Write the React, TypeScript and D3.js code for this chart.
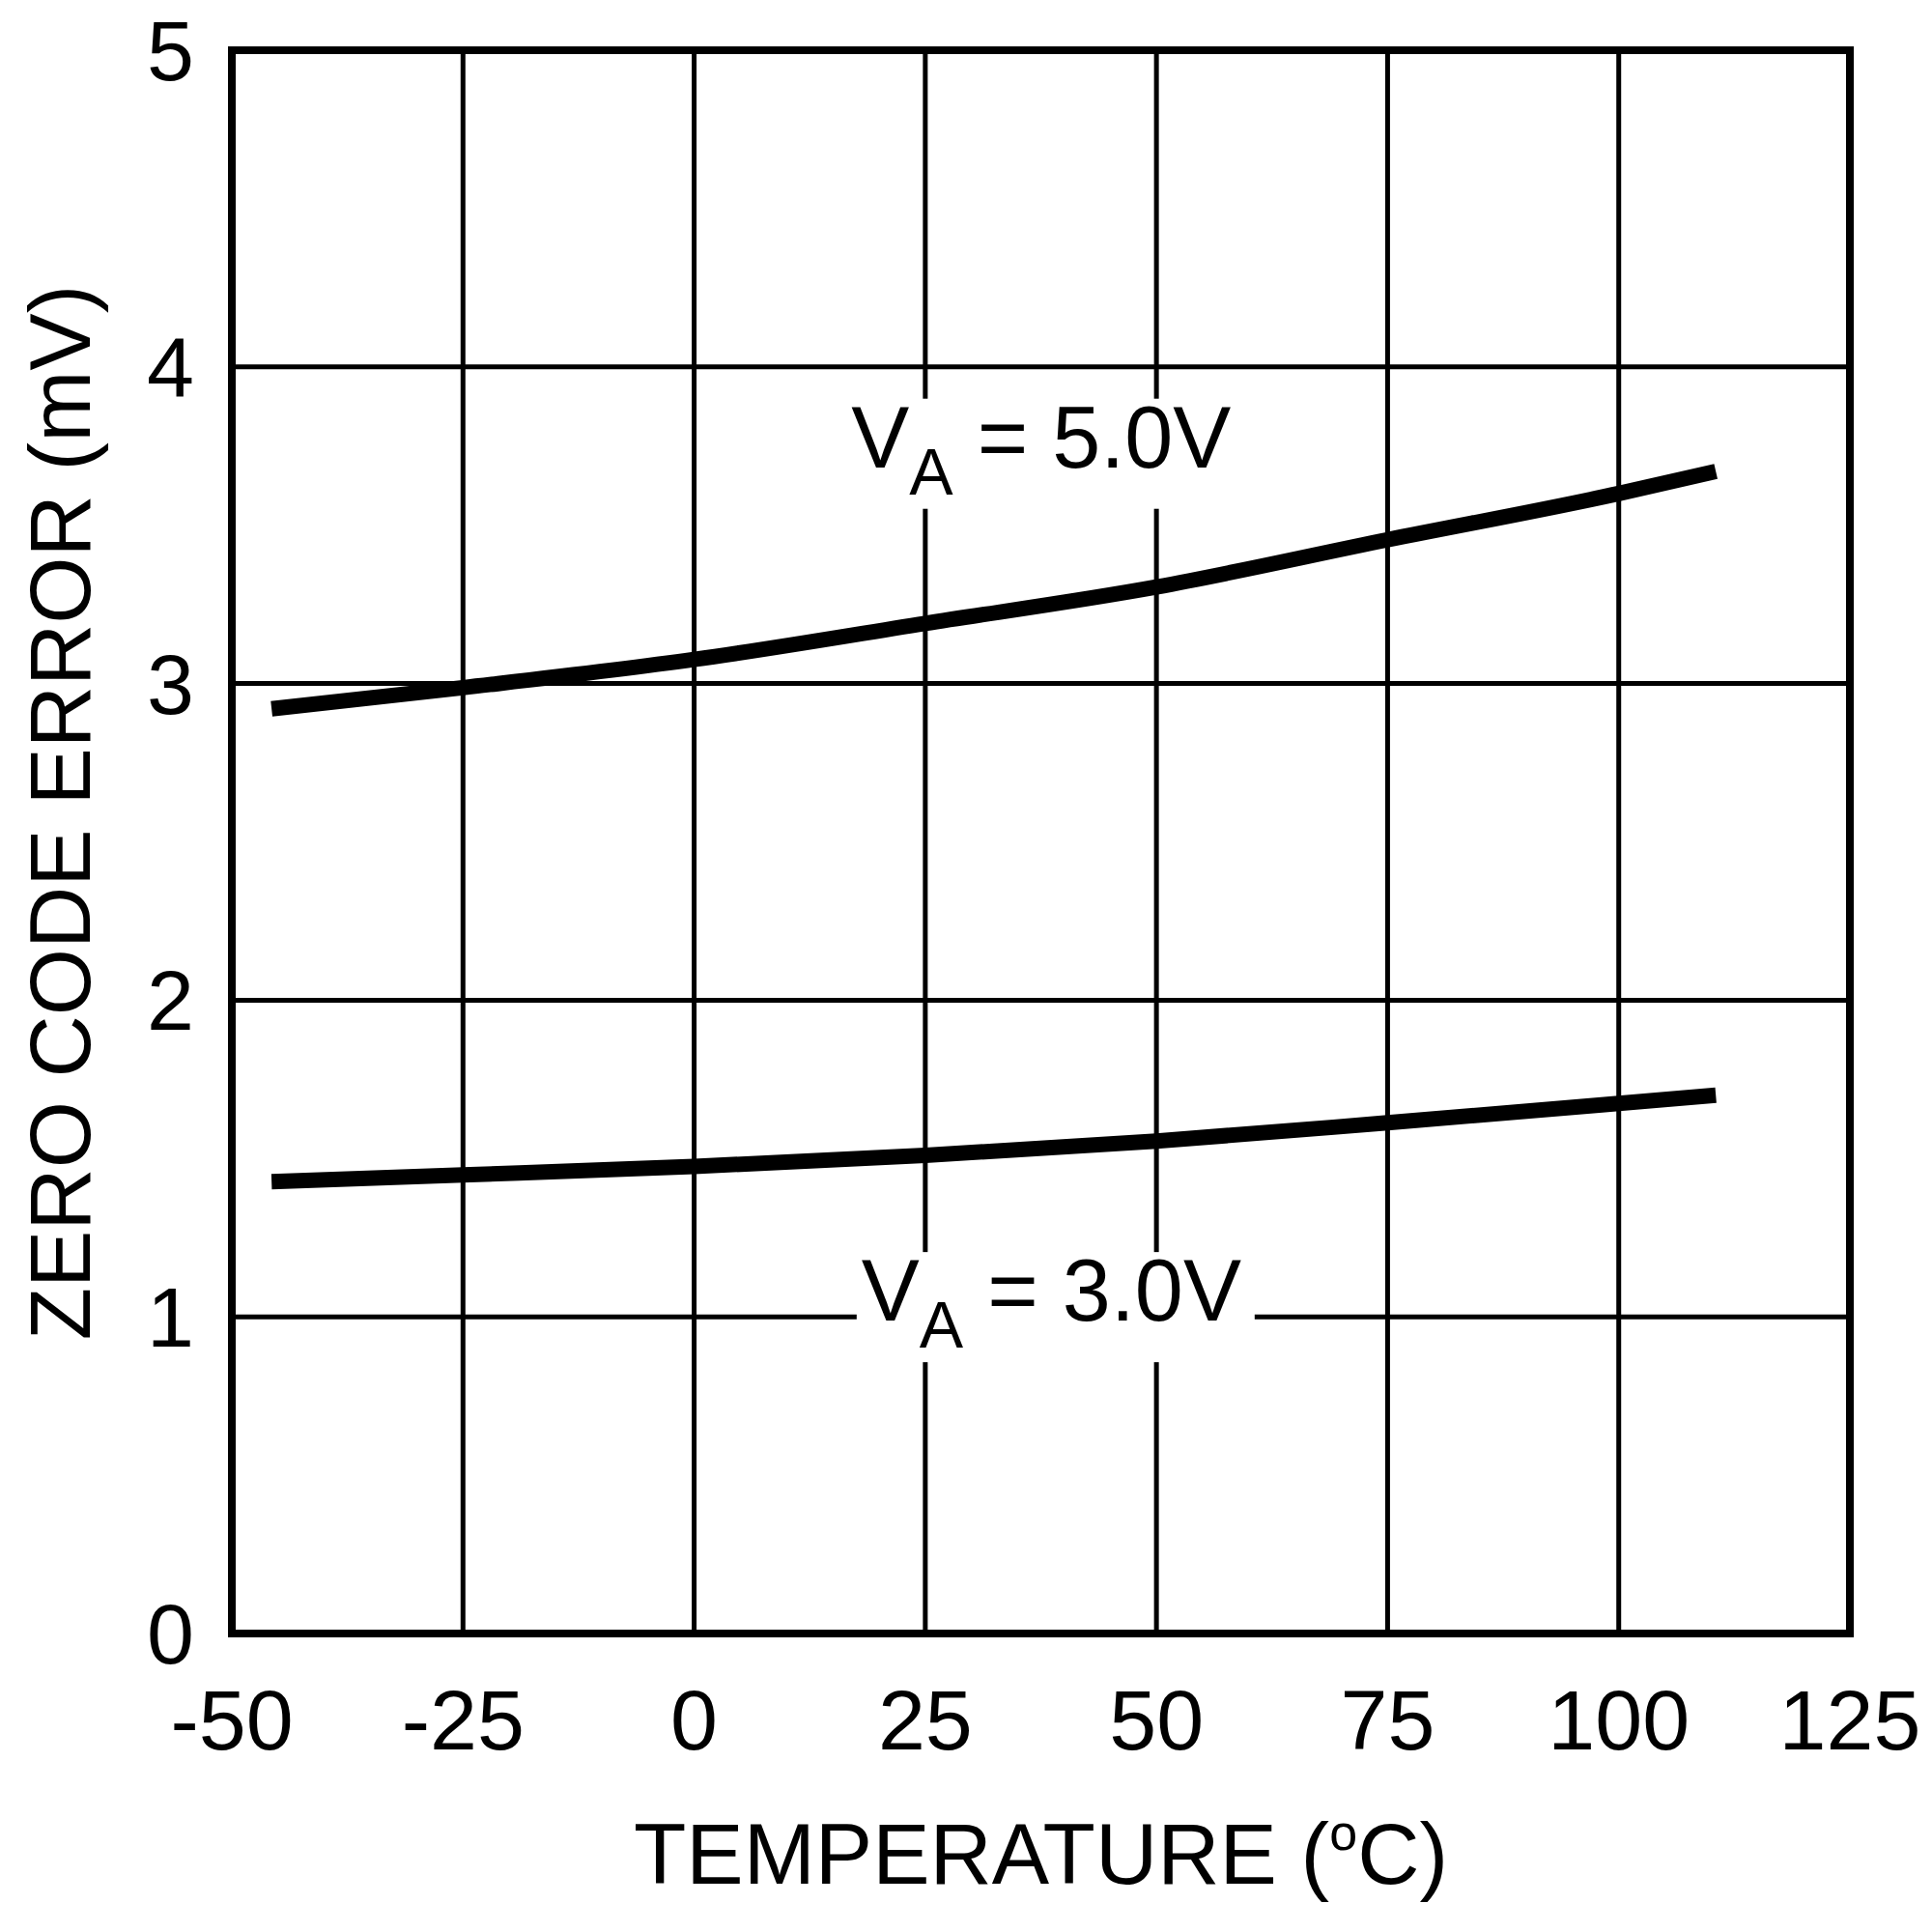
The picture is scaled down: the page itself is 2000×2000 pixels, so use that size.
import React from "react";
import * as d3 from "d3";

// ---- data ----
const xTicks = [-50, -25, 0, 25, 50, 75, 100, 125];
const yTicks = [0, 1, 2, 3, 4, 5];

const tempVA5 = [-45.7, -25, 0, 25, 50, 75, 100, 110.5];
const errVA5 = [2.92, 2.987, 3.076, 3.19, 3.305, 3.454, 3.6, 3.67];

const tempVA3 = [-45.7, -25, 0, 25, 50, 75, 100, 110.5];
const errVA3 = [1.427, 1.448, 1.475, 1.51, 1.555, 1.613, 1.674, 1.7];

const seriesLabels = ["5.0V", "3.0V"];
const labelTemp = [17.0, 18.1];
const labelErr = [3.683, 0.988];

const xTitle = "TEMPERATURE (";
const yTitle = "ZERO CODE ERROR (mV)";

const FONT = "'Liberation Sans', Arial, sans-serif";

export default function App() {
  const x = d3.scaleLinear().domain([-50, 125]).range([240, 1915]);
  const y = d3.scaleLinear().domain([0, 5]).range([1691, 52]);

  const line = d3
    .line<[number, number]>()
    .x((d) => x(d[0]))
    .y((d) => y(d[1]))
    .curve(d3.curveMonotoneX);

  const s5 = tempVA5.map((t, i) => [t, errVA5[i]] as [number, number]);
  const s3 = tempVA3.map((t, i) => [t, errVA3[i]] as [number, number]);

  return (
    <svg
      width={2000}
      height={2000}
      style={{ position: "absolute", left: 0, top: 0, background: "#fff" }}
      fontFamily={FONT}
    >
      <rect x={0} y={0} width={2000} height={2000} fill="#fff" />
      {/* grid */}
      {yTicks.slice(1, -1).map((v) => (
        <line key={"gy" + v} x1={x(-50)} x2={x(125)} y1={y(v)} y2={y(v)} stroke="#000" strokeWidth={5} />
      ))}
      {xTicks.slice(1, -1).map((v) => (
        <line key={"gx" + v} x1={x(v)} x2={x(v)} y1={y(0)} y2={y(5)} stroke="#000" strokeWidth={5} />
      ))}

      {/* label boxes & labels */}
      {seriesLabels.map((lab, i) => {
        const lx = x(labelTemp[i]);
        const ly = y(labelErr[i]);
        return (
          <g key={lab}>
            <rect x={lx - 5} y={ly - 71} width={412} height={114} fill="#fff" />
            <text x={lx} y={ly} fontSize={90} fill="#000">
              V
              <tspan fontSize={68} dy={28}>A</tspan>
              <tspan dy={-28}>{" = " + lab}</tspan>
            </text>
          </g>
        );
      })}

      {/* curves */}
      <path d={line(s5) || ""} fill="none" stroke="#000" strokeWidth={16} />
      <path d={line(s3) || ""} fill="none" stroke="#000" strokeWidth={16} />

      {/* frame */}
      <rect x={x(-50)} y={y(5)} width={x(125) - x(-50)} height={y(0) - y(5)} fill="none" stroke="#000" strokeWidth={8} />

      {/* y tick labels */}
      {yTicks.map((v) => (
        <text key={"ty" + v} x={x(-50) - 39} y={y(v) + 31} fontSize={88} textAnchor="end" fill="#000">
          {v}
        </text>
      ))}
      {/* x tick labels */}
      {xTicks.map((v) => (
        <text key={"tx" + v} x={x(v)} y={y(0) + 120} fontSize={88} textAnchor="middle" fill="#000">
          {v}
        </text>
      ))}

      {/* axis titles */}
      <text x={(x(-50) + x(125)) / 2} y={1950} fontSize={89} textAnchor="middle" fill="#000">
        {xTitle}
        <tspan fontSize={52} dy={-35}>o</tspan>
        <tspan dy={35}>C)</tspan>
      </text>
      <text transform="translate(93,841) rotate(-90)" fontSize={89} textAnchor="middle" fill="#000">
        {yTitle}
      </text>
    </svg>
  );
}
